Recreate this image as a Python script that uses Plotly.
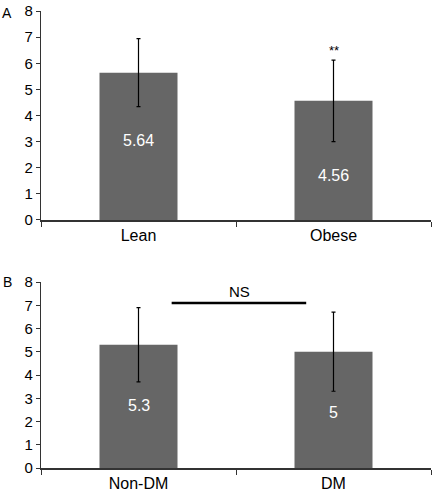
import plotly.graph_objects as go
from plotly.subplots import make_subplots

# Panel A
cats_a = ["Lean", "Obese"]
vals_a = [5.64, 4.56]
err_a = [1.3, 1.56]
# Panel B
cats_b = ["Non-DM", "DM"]
vals_b = [5.3, 5.0]
err_b = [1.6, 1.7]
label_a = ["5.64", "4.56"]
label_b = ["5.3", "5"]
yticks = [0, 1, 2, 3, 4, 5, 6, 7, 8]

BAR = "#666666"
FONT = "Liberation Sans, Arial, Helvetica, sans-serif"

fig = make_subplots(rows=2, cols=1)

fig.add_trace(go.Bar(x=cats_a, y=vals_a, width=0.4, marker=dict(color=BAR, line=dict(width=0)),
                     error_y=dict(type="data", array=err_a, color="black", thickness=1.2, width=2),
                     showlegend=False), row=1, col=1)
fig.add_trace(go.Bar(x=cats_b, y=vals_b, width=0.4, marker=dict(color=BAR, line=dict(width=0)),
                     error_y=dict(type="data", array=err_b, color="black", thickness=1.2, width=2),
                     showlegend=False), row=2, col=1)

# value labels inside bars
lab_y_a = [3.03, 1.7]
lab_y_b = [2.68, 2.37]
anns = []
for c, t, yy in zip(cats_a, label_a, lab_y_a):
    anns.append(dict(x=c, y=yy, xref="x", yref="y", text=t, showarrow=False,
                     font=dict(color="white", size=16, family=FONT)))
for c, t, yy in zip(cats_b, label_b, lab_y_b):
    anns.append(dict(x=c, y=yy, xref="x2", yref="y2", text=t, showarrow=False,
                     font=dict(color="white", size=16, family=FONT)))
anns.append(dict(x="Obese", y=6.5, xref="x", yref="y", text="**", showarrow=False,
                 font=dict(color="black", size=13, family=FONT)))
anns.append(dict(x=0.52, y=7.6, xref="x2", yref="y2", text="NS", showarrow=False,
                 font=dict(color="black", size=15, family=FONT)))
anns.append(dict(x=0, y=1.0, xref="paper", yref="paper", xanchor="center", yanchor="middle",
                 xshift=-34, yshift=-2, text="A",
                 showarrow=False, font=dict(color="black", size=14, family=FONT)))
anns.append(dict(x=0, y=0.407, xref="paper", yref="paper", xanchor="center", yanchor="middle",
                 xshift=-34, yshift=0, text="B",
                 showarrow=False, font=dict(color="black", size=14, family=FONT)))

fig.add_shape(type="line", x0=0.17, x1=0.86, y0=7.1, y1=7.1, xref="x2", yref="y2",
              line=dict(color="black", width=2.5))

axis_y = dict(range=[0, 8], tickvals=yticks, showgrid=False, zeroline=False, automargin=False,
              ticklabeloverflow="allow",
              showline=True, linecolor="#333", linewidth=1.2, ticks="outside", ticklen=4,
              tickcolor="#333", tickfont=dict(size=15, family=FONT, color="black"))
axis_x = dict(showgrid=False, showline=True, linecolor="#333", linewidth=1.6, ticks="outside",
              tickson="boundaries", ticklen=5, tickcolor="#333", automargin=False,
              tickfont=dict(size=16, family=FONT, color="black"))

fig.update_layout(
    width=436, height=492,
    margin=dict(l=41, r=5, t=11, b=24),
    paper_bgcolor="white", plot_bgcolor="white",
    bargap=0.6,
    annotations=anns,
    xaxis=dict(axis_x, domain=[0, 1]),
    xaxis2=dict(axis_x, domain=[0, 1]),
    yaxis=dict(axis_y, domain=[0.5427, 1.0]),
    yaxis2=dict(axis_y, domain=[0.0, 0.407]),
)

# remove the browser's default 8px body margin so the figure fills the window
fig.write_html("out.html", config={"displayModeBar": False},
               post_script="document.body.style.margin='0';")
